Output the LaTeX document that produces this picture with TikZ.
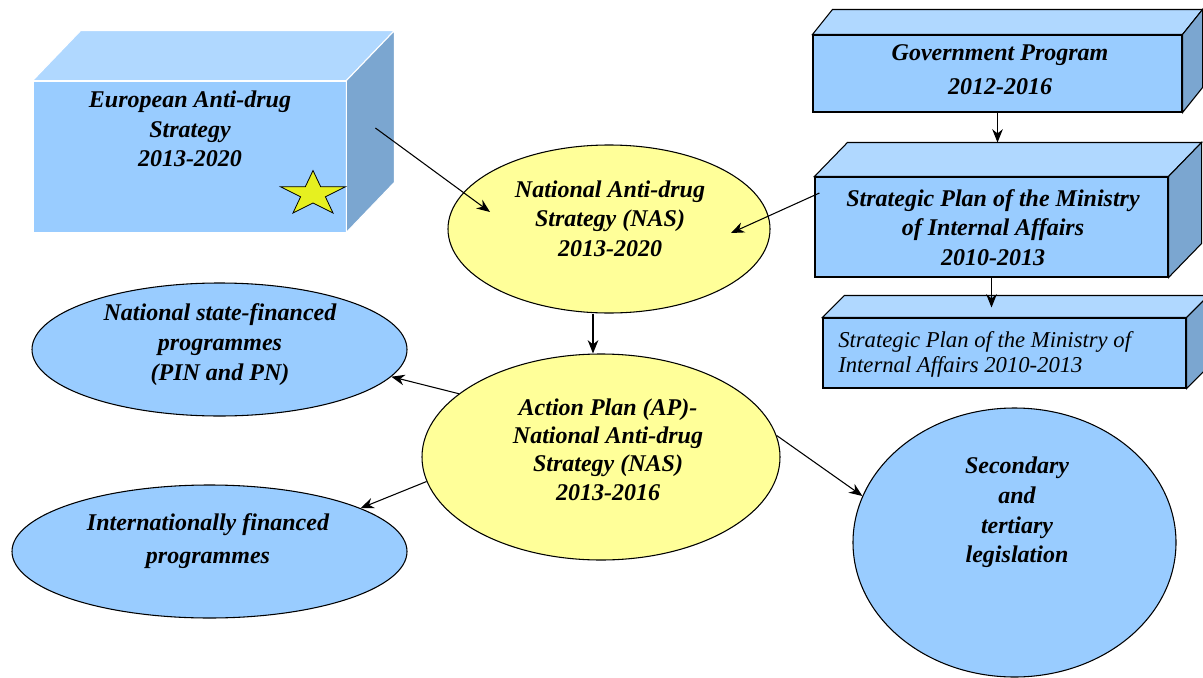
\documentclass[tikz,border=0pt]{standalone}
\usepackage{fontspec}
\setmainfont{Liberation Serif}
\usetikzlibrary{shapes.geometric,arrows.meta,calc}
\definecolor{boxfront}{HTML}{99CCFF}
\definecolor{boxtop}{HTML}{B0D8FF}
\definecolor{boxside}{HTML}{7BA6D0}
\definecolor{nasyellow}{HTML}{FFFF99}
\definecolor{staryellow}{HTML}{E6F020}
\newcommand\cuboidfaces[4]{%
  \fill[boxtop,draw=#4,line width=0.8pt,line join=miter] (#1.north west) -- ++(#2,#3) -- ($(#1.north east)+(#2,#3)$) -- (#1.north east) -- cycle;
  \fill[boxside,draw=#4,line width=0.8pt,line join=miter] (#1.north east) -- ++(#2,#3) -- ($(#1.south east)+(#2,#3)$) -- (#1.south east) -- cycle;
  \coordinate (#1-btl) at ($(#1.north west)+(#2,#3)$);
}
\begin{document}
\begin{tikzpicture}[x=0.75pt,y=-0.75pt,
  lbl/.style={font=\bfseries\itshape\fontsize{18}{22}\selectfont, align=center, inner sep=0pt},
  front/.style={draw=black, line width=0.8pt, fill=boxfront, inner sep=0pt},
  oval/.style={ellipse, draw=black, line width=0.8pt, inner sep=0pt},
  arr/.style={-{Stealth[length=10pt,width=8pt]}, line width=0.8pt},
]
\useasboundingbox (0,0) rectangle (1203,678);
\fill[white] (0,0) rectangle (1203,678);
\clip (0,0) rectangle (1203,678);

% European box
\node[front, draw=white, line width=0.6pt, minimum width=234.75pt, minimum height=113.25pt] (eu) at (189.5,156.5) {};
\cuboidfaces{eu}{48}{-50}{white}
\node[lbl] (eul) at (190,129) {European Anti-drug\\Strategy\\2013-2020};
\begin{scope}[shift={(313,194)},xscale=1.45,yscale=-1]
  \filldraw[fill=staryellow,draw=black,line width=0.6pt] (90:23.5) -- (126:9) -- (162:23.5) -- (198:9) -- (234:23.5) -- (270:9) -- (306:23.5) -- (342:9) -- (18:23.5) -- (54:9) -- cycle;
\end{scope}

% Government program
\node[front, minimum width=276.75pt, minimum height=57.75pt] (gov) at (997.5,73.5) {};
\cuboidfaces{gov}{20}{-25}{black}
\node[lbl, font=\bfseries\itshape\fontsize{18}{25.5}\selectfont] (govl) at (1000,70) {Government Program\\2012-2016};

% Strategic plan (bold)
\node[front, minimum width=264.75pt, minimum height=75pt] (smia) at (991.5,227) {};
\cuboidfaces{smia}{33}{-34}{black}
\node[lbl] (smial) at (993,227.5) {Strategic Plan of the Ministry\\of Internal Affairs\\2010-2013};

% Strategic plan (plain)
\node[front, minimum width=272.25pt, minimum height=52.5pt] (smib) at (1004.5,353) {};
\cuboidfaces{smib}{22}{-22}{black}
\node[inner sep=0pt, anchor=west, align=left, font=\itshape\fontsize{17}{18.75}\selectfont] (smibl) at (838,354) {Strategic Plan of the Ministry of\\Internal Affairs 2010-2013};

% Ellipses
\node[oval, fill=nasyellow, minimum width=241.5pt, minimum height=126pt] (nas) at (609,229) {};
\node[lbl] (nasl) at (610,218.5) {National Anti-drug\\Strategy (NAS)\\2013-2020};

\node[oval, fill=nasyellow, minimum width=268.5pt, minimum height=154.5pt] (ap) at (601,457) {};
\node[lbl, font=\bfseries\itshape\fontsize{18}{21.25}\selectfont] (apl) at (608,449.5) {Action Plan (AP)-\\National Anti-drug\\Strategy (NAS)\\2013-2016};

\node[oval, fill=boxfront, minimum width=281.25pt, minimum height=99.75pt] (nsf) at (219.5,349.5) {};
\node[lbl, font=\bfseries\itshape\fontsize{18}{22.5}\selectfont] (nsfl) at (220,345) {National state-financed\\programmes\\(PIN and PN)};

\node[oval, fill=boxfront, minimum width=296.25pt, minimum height=99.75pt] (intl) at (209.5,551.5) {};
\node[lbl, font=\bfseries\itshape\fontsize{18}{24.75}\selectfont] (intll) at (208,541.5) {Internationally financed\\programmes};

\node[oval, fill=boxfront, minimum width=242.25pt, minimum height=201.75pt] (sec) at (1014.5,542.5) {};
\node[lbl, font=\bfseries\itshape\fontsize{18}{22.25}\selectfont] (secl) at (1017,512.5) {Secondary\\and\\tertiary\\legislation};

% Connectors
\draw[arr] ($(eu.east)+(29,-28.5)$) -- ($(nas.center)+(-119,-17)$);
\draw[arr] ($(smia.west)+(5,-34)$) -- ($(nas.center)+(122,4)$);
\draw[arr] (gov.south) -- (gov.south |- smia-btl);
\draw[arr, shorten >=7.5pt] (smia.south) -- (smia.south |- smib.north);
\draw[arr] ($(nas.south)+(-16,0)$) -- ($(ap.north)+(-8,0)$);
\draw[arr] (ap.156) -- (nsf.-9);
\draw[arr] (ap.188.5) -- (intl.16);
\draw[arr] (ap.7) -- (sec.163);
\end{tikzpicture}
\end{document}
